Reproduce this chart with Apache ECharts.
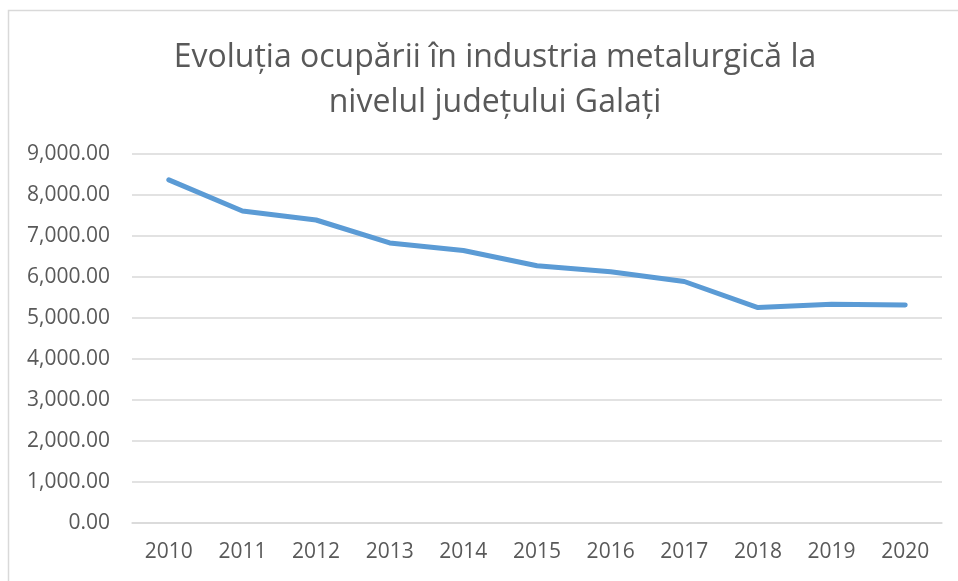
<!DOCTYPE html>
<html>
<head>
<meta charset="utf-8">
<script src="https://cdn.jsdelivr.net/npm/echarts@6/dist/echarts.min.js"></script>
<style>
html,body{margin:0;padding:0;background:#fff;}
#chart{width:958px;height:581px;}
</style>
</head>
<body>
<div id="chart"></div>
<script>
const titleText = "Evoluția ocupării în industria metalurgică la\nnivelul județului Galați";
const years = ["2010","2011","2012","2013","2014","2015","2016","2017","2018","2019","2020"];
const employment = [8370, 7610, 7390, 6830, 6645, 6275, 6130, 5890, 5255, 5335, 5315];
const yMin = 0, yMax = 9000, yStep = 1000;

const chart = echarts.init(document.getElementById('chart'), null, {renderer:'canvas'});
const fontFam = '"Open Sans", "Noto Sans", sans-serif';
chart.setOption({
  animation: false,
  backgroundColor: '#ffffff',
  title: {
    text: titleText,
    left: 490, top: 30, textAlign: 'center',
    textStyle: {fontFamily: fontFam, fontSize: 32, fontWeight: 'normal', color: '#595959', lineHeight: 45}
  },
  graphic: [{
    type: 'rect', silent: true,
    shape: {x: 8.5, y: 10.5, width: 1000, height: 700},
    style: {fill: 'none', stroke: '#d9d9d9', lineWidth: 1.5}
  }],
  grid: {left: 132, right: 16, top: 154, bottom: 58, containLabel: false},
  xAxis: {
    type: 'category', data: years, boundaryGap: true,
    axisLine: {show: true, lineStyle: {color: '#d9d9d9', width: 1.5}},
    axisTick: {show: false},
    axisLabel: {fontFamily: fontFam, fontSize: 21, color: '#595959', margin: 19}
  },
  yAxis: {
    type: 'value', min: yMin, max: yMax, interval: yStep,
    axisLine: {show: false}, axisTick: {show: false},
    splitLine: {lineStyle: {color: '#d9d9d9', width: 1.5}},
    axisLabel: {
      fontFamily: fontFam, fontSize: 21, color: '#595959', margin: 22,
      formatter: v => v.toLocaleString('en-US', {minimumFractionDigits: 2, maximumFractionDigits: 2})
    }
  },
  series: [{
    type: 'line', data: employment, showSymbol: false, symbol: 'none',
    lineStyle: {color: '#5B9BD5', width: 5, cap: 'round', join: 'round'},
    itemStyle: {color: '#5B9BD5'}
  }]
});
</script>
</body>
</html>
